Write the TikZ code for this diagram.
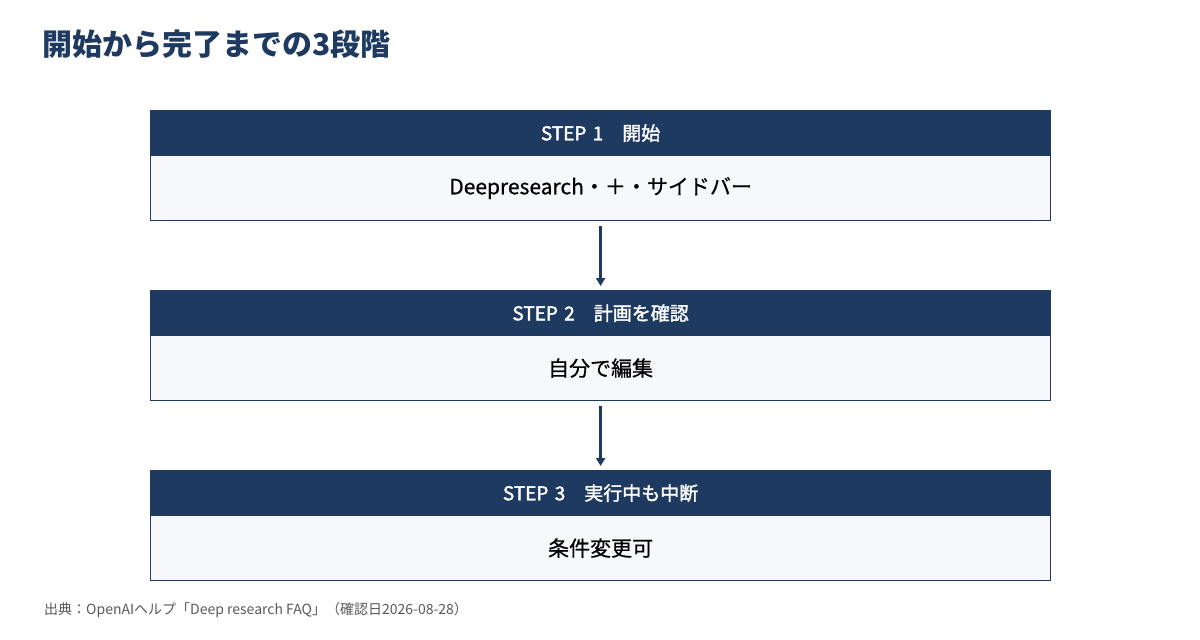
\documentclass[tikz,border=0pt]{standalone}
\usepackage{fontspec}
\setmainfont{Noto Sans CJK JP}
\newfontfamily\hdrfont[FakeBold=1.8]{Noto Sans CJK JP}
\newfontfamily\bodyfont[FakeBold=0.6]{Noto Sans CJK JP}
\usetikzlibrary{arrows.meta}
\definecolor{navy}{HTML}{1F3A60}
\definecolor{bodyfill}{HTML}{F7F8FC}
\definecolor{foot}{HTML}{595959}
\tikzset{
  hdr/.style={draw=navy, line width=1.2pt, fill=navy, text=white, minimum width=900pt, minimum height=45pt, inner sep=0pt, font=\hdrfont\fontsize{19pt}{21pt}\selectfont, anchor=north west},
  bodybox/.style={draw=navy, line width=1.2pt, fill=bodyfill, text=black, minimum width=900pt, minimum height=65pt, inner sep=0pt, font=\bodyfont\fontsize{21pt}{24pt}\selectfont, anchor=north west},
  conn/.style={draw=navy, line width=3pt, -{Triangle[width=9pt,length=8pt]}}
}
\begin{document}
\begin{tikzpicture}[x=1pt,y=-1pt]
\useasboundingbox (0,0) rectangle (1200,640);
\node[anchor=west, text=navy, font=\fontsize{30pt}{34pt}\selectfont\bfseries, inner sep=0pt] (title) at (42,44) {開始から完了までの3段階};

\node[bodybox] (b1) at (150,155) {Deepresearch・＋・サイドバー};
\node[hdr] (h1) at (150,110) {STEP\,\,1　開始};

\node[bodybox] (b2) at (150,335) {自分で編集};
\node[hdr] (h2) at (150,290) {STEP\,\,2　計画を確認};

\node[bodybox] (b3) at (150,515) {条件変更可};
\node[hdr] (h3) at (150,470) {STEP\,\,3　実行中も中断};

\draw[conn] ([yshift=-5pt]b1.south) -- ([yshift=4pt]h2.north);
\draw[conn] ([yshift=-5pt]b2.south) -- ([yshift=4pt]h3.north);

\node[anchor=west, text=foot, font=\fontsize{14pt}{16pt}\selectfont, inner sep=0pt] (src) at (44,610) {出典：OpenAIヘルプ「Deep research FAQ」（確認日2026-08-28）};
\end{tikzpicture}
\end{document}
